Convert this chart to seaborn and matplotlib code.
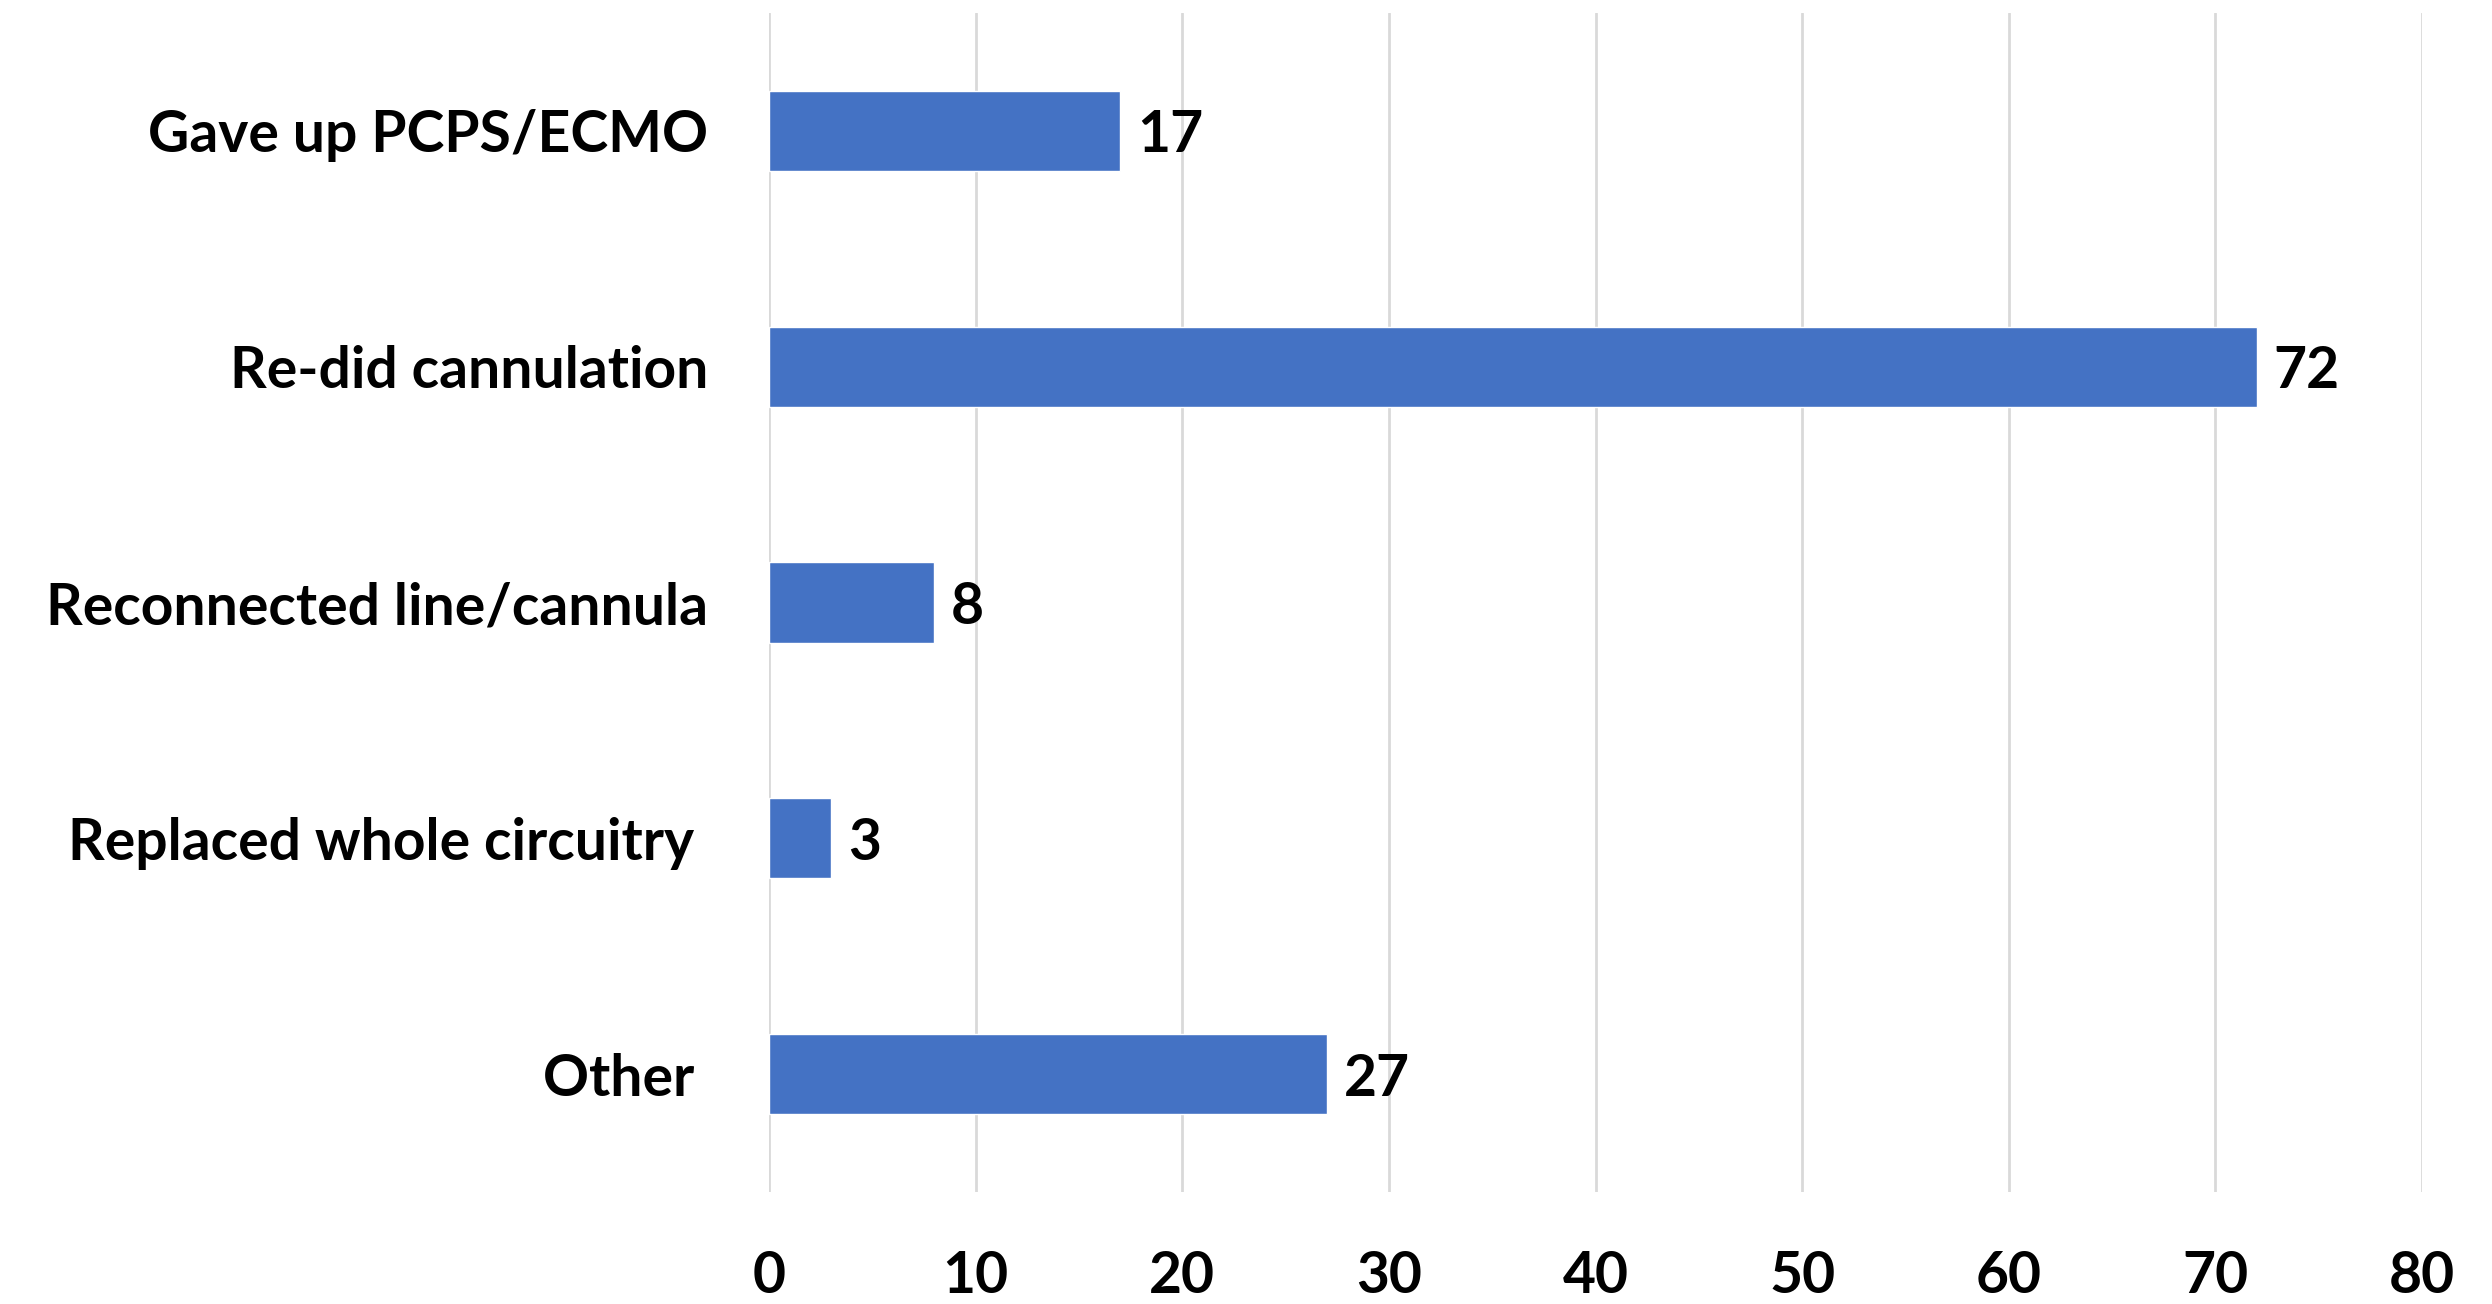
import matplotlib
matplotlib.use("Agg")
import matplotlib.pyplot as plt
import seaborn as sns
import pandas as pd

# data
categories = ["Gave up PCPS/ECMO", "Re-did cannulation", "Reconnected line/cannula",
              "Replaced whole circuitry ", "Other "]
counts = [17, 72, 8, 3, 27]
x_ticks = [0, 10, 20, 30, 40, 50, 60, 70, 80]

df = pd.DataFrame({"action": categories, "count": counts})

sns.set_theme(style="white")
plt.rcParams["font.family"] = ["Lato", "DejaVu Sans"]
plt.rcParams["font.weight"] = "bold"

fig = plt.figure(figsize=(24.92, 13.04), dpi=100)
ax = fig.add_axes([0.3086, 0.0859, 0.9719 - 0.3086, 0.990 - 0.0859])

sns.barplot(data=df, x="count", y="action", orient="h", color="#4472C4",
            saturation=1, width=0.34, ax=ax)

ax.set_xlim(0, 80)
ax.set_ylim(4.5, -0.5)
ax.set_xticks(x_ticks)
ax.grid(axis="x", color="#D9D9D9", linewidth=2)
ax.set_axisbelow(True)
for s in ax.spines.values():
    s.set_visible(False)

ax.set_xlabel("")
ax.set_ylabel("")
ax.tick_params(axis="both", length=0, labelsize=41, colors="black")
ax.tick_params(axis="y", pad=44)
ax.tick_params(axis="x", pad=42)
for lab in ax.get_xticklabels() + ax.get_yticklabels():
    lab.set_fontweight("bold")

labels = ax.bar_label(ax.containers[0], padding=12, fontsize=41, fontweight="bold", color="black")
for t in labels:
    t.set_va("center_baseline")

fig.savefig("out.png", dpi=100)
